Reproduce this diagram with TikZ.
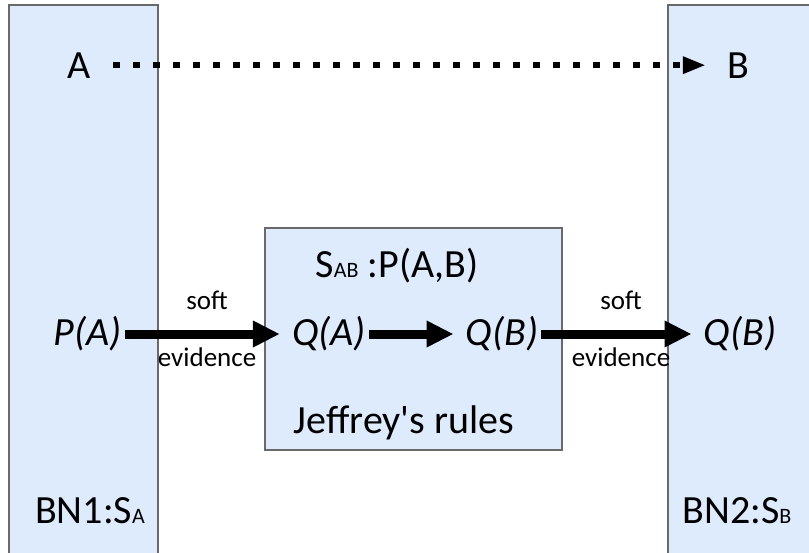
\documentclass[tikz,border=0pt]{standalone}
\usepackage{fontspec}
\setmainfont{Carlito}
\usetikzlibrary{arrows.meta}
\definecolor{panelblue}{RGB}{221,235,253}
\definecolor{edgegray}{RGB}{105,105,105}
\newcommand{\subtxt}[1]{{\fontsize{22}{26}\selectfont #1}}

\begin{document}
\begin{tikzpicture}[x=1pt,y=-1pt,
      panel/.style={fill=panelblue,draw=edgegray,line width=1.2pt},
      big/.style={font=\fontsize{40}{48}\selectfont,inner sep=3pt},
      small/.style={font=\fontsize{27}{32}\selectfont,inner sep=0pt},
      fat arrow/.style={line width=9pt,shorten >=9pt,
          -{Triangle[length=27pt,width=25pt]}},
      dots/.style={line width=6pt,dash pattern=on 7pt off 13pt,
          -{Triangle[length=23pt,width=16pt]}}]
      \clip (0,0) rectangle (809,552);
      \fill[white] (0,0) rectangle (809,552);
      % the two networks and the middle box
      \draw[panel] (9,5) rectangle (158,570);
      \draw[panel] (668,5) rectangle (820,570);
      \draw[panel] (265,228) rectangle (562,450);

      \node[big,anchor=base] (A) at (79,78) {A};
      \node[big,anchor=base] (B) at (738,78) {B};
      \draw[dots,shorten <=19pt,shorten >=18pt] (A) -- (B);

      \node[big,anchor=base] (SAB) at (397,277) {S\subtxt{AB} :P(A,B)};
      \node[big] (PA) at (88,334) {\itshape P(A)};
      \node[big] (QA) at (329,334) {\itshape Q(A)};
      \node[big] (QB) at (502,334) {\itshape Q(B)};
      \node[big] (QB2) at (740,334) {\itshape Q(B)};
      \node[big,anchor=base] (Rules) at (404,433) {Jeffrey\textquotesingle s rules};
      \node[big,anchor=base] (BN1) at (90,523) {BN1:S\subtxt{A}};
      \node[big,anchor=base] (BN2) at (737,523) {BN2:S\subtxt{B}};

      \draw[fat arrow] (PA) -- (QA)
          node[small,midway,above=20pt] {soft}
          node[small,midway,below=9pt] {evidence};
      \draw[fat arrow] (QA) -- (QB);
      \draw[fat arrow] (QB) -- (QB2)
          node[small,midway,above=20pt] {soft}
          node[small,midway,below=9pt] {evidence};
\end{tikzpicture}
\end{document}
